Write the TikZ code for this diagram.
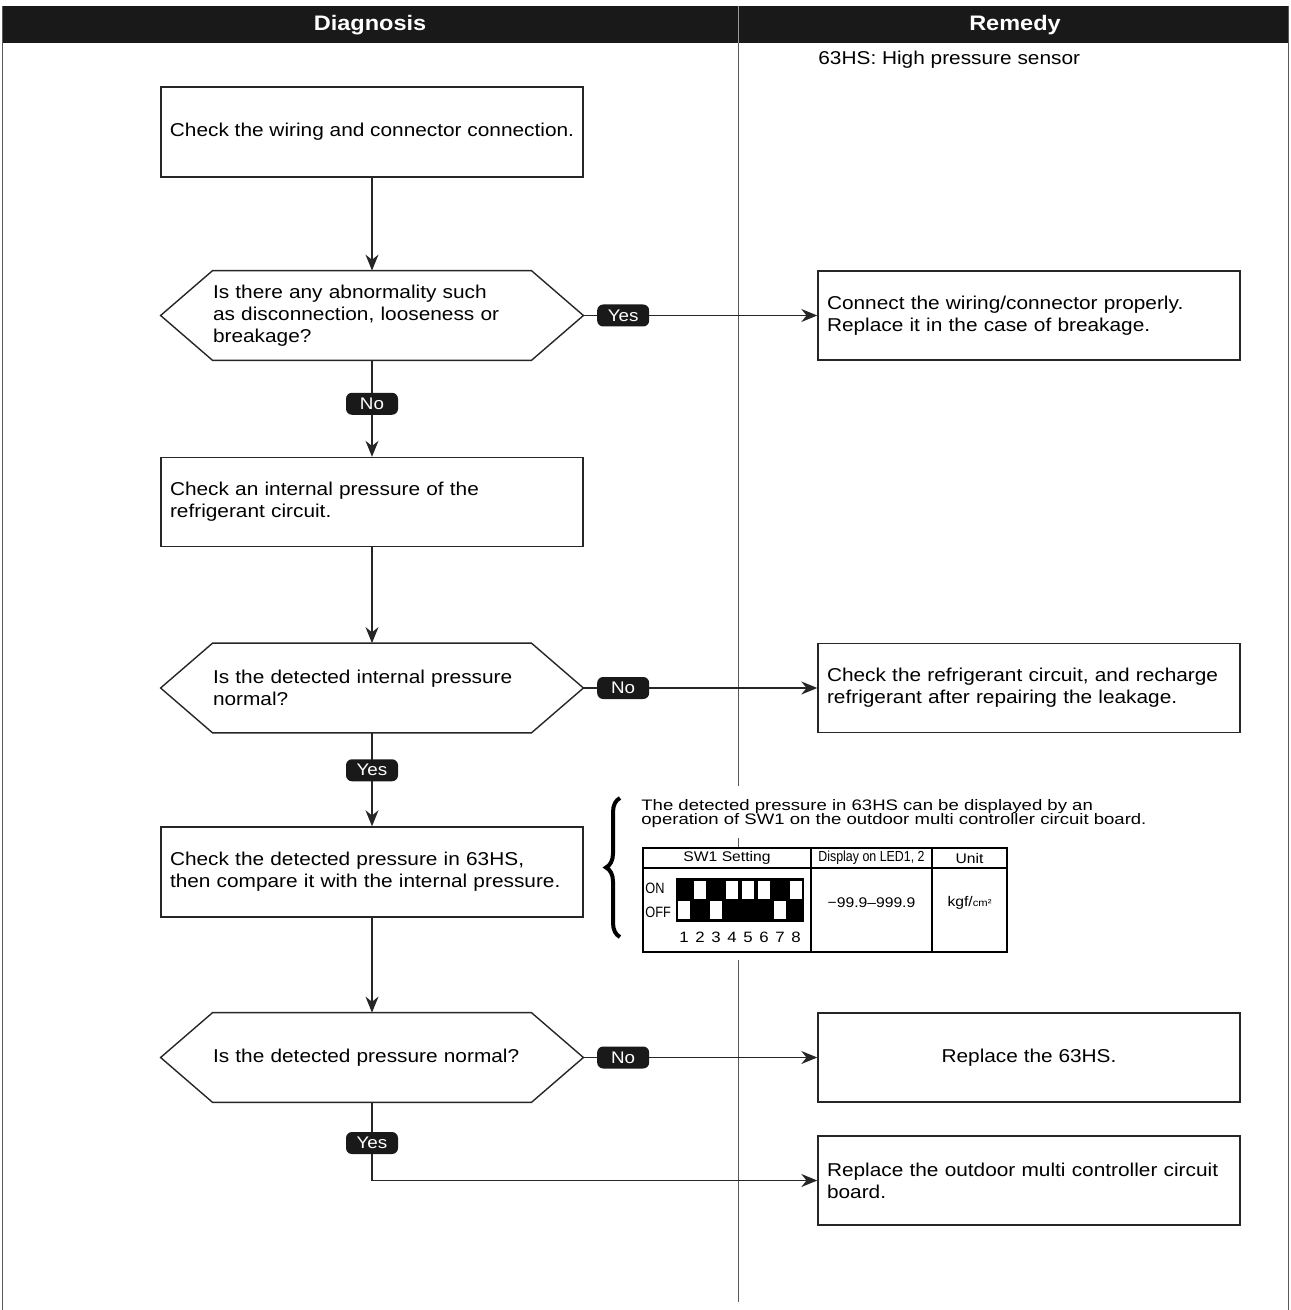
\documentclass[tikz,border=0pt]{standalone}
\usepackage{fontspec}
\setmainfont{Liberation Sans}[FakeStretch=1.12]
\newfontfamily\condfont{Liberation Sans}[FakeStretch=0.85]
\newfontfamily\widefont{Liberation Sans}[FakeStretch=1.22]
\usetikzlibrary{arrows.meta,calc,decorations.pathreplacing}
\newcommand{\flowfont}{\fontsize{9.3}{11.1}\selectfont}
\newcommand{\notefont}{\widefont\fontsize{7.6}{7}\selectfont\lineskiplimit=-10pt}
\newcommand{\tabfont}{\fontsize{7}{8}\selectfont}

\begin{document}
\begin{tikzpicture}[
    x=0.5pt, y=-0.5pt,
    box/.style={rectangle, draw=black!85, line width=0.7pt, minimum width=211pt, minimum height=44.5pt, inner sep=4.5pt, font=\flowfont},
    leftbox/.style={box, text width=202pt, align=left},
    centerbox/.style={box, align=center},
    decision/.style={rectangle, minimum width=211pt, minimum height=44.5pt, inner xsep=26pt, inner ysep=0pt, text width=159pt, align=left, font=\flowfont},
    hexline/.style={draw=black!85, line width=0.7pt},
    tag/.style={rectangle, rounded corners=3pt, fill=black!90, text=white, minimum width=26pt, minimum height=11pt, inner sep=0pt, font=\fontsize{8.4}{9}\selectfont},
    arrow/.style={-{Stealth[length=8pt, width=6.5pt]}, line width=0.6pt, black!85},
    frame/.style={black!65, line width=0.5pt},
    tabtext/.style={font=\tabfont, inner sep=0pt},
    brace/.style={decorate, decoration={brace, amplitude=7pt}, line width=2pt}
]
\useasboundingbox (0,0) rectangle (1290,1310);

% Header
\fill[black!90] (2,6) rectangle (1288,43);
\draw[white!60!black, line width=0.4pt] (738,6) -- (738,43);
\node[font=\bfseries\fontsize{10.5}{12}\selectfont, text=white] (diag) at (370,25) {Diagnosis};
\node[font=\bfseries\fontsize{10.5}{12}\selectfont, text=white] (remedy) at (1015,25) {Remedy};

% Frame and divider
\draw[frame] (2,6) -- (2,1310);
\draw[frame] (1288,6) -- (1288,1310);
\draw[frame] (738,43) -- (738,786);
\draw[frame] (738,838) -- (738,848);
\draw[frame] (738,960) -- (738,1302);

\node[anchor=west, inner sep=0pt, font=\flowfont] (legend) at (818,60) {63HS: High pressure sensor};

% Diagnosis column
\node[centerbox, minimum height=45pt] (b1) at (372,132) {Check the wiring and connector connection.};
\node[decision] (q1) at (372,315.5) {Is there any abnormality such\\as disconnection, looseness or\\breakage?};
\node[leftbox] (b2) at (372,502) {Check an internal pressure of the\\refrigerant circuit.};
\node[decision] (q2) at (372,688) {Is the detected internal pressure\\normal?};
\node[leftbox, minimum height=45pt] (b3) at (372,872) {Check the detected pressure in 63HS,\\then compare it with the internal pressure.};
\node[decision] (q3) at (372,1057.5) {Is the detected pressure normal?};

% Hexagon outlines
\draw[hexline] (q1.west) -- ([xshift=26pt]q1.north west) -- ([xshift=-26pt]q1.north east) -- (q1.east) -- ([xshift=-26pt]q1.south east) -- ([xshift=26pt]q1.south west) -- cycle;
\draw[hexline] (q2.west) -- ([xshift=26pt]q2.north west) -- ([xshift=-26pt]q2.north east) -- (q2.east) -- ([xshift=-26pt]q2.south east) -- ([xshift=26pt]q2.south west) -- cycle;
\draw[hexline] (q3.west) -- ([xshift=26pt]q3.north west) -- ([xshift=-26pt]q3.north east) -- (q3.east) -- ([xshift=-26pt]q3.south east) -- ([xshift=26pt]q3.south west) -- cycle;

% Remedy column
\node[leftbox] (r1) at (1029,315.5) {Connect the wiring/connector properly.\\Replace it in the case of breakage.};
\node[leftbox] (r2) at (1029,688) {Check the refrigerant circuit, and recharge\\refrigerant after repairing the leakage.};
\node[centerbox] (r3) at (1029,1057.5) {Replace the 63HS.};
\node[leftbox] (r4) at (1029,1180.5) {Replace the outdoor multi controller circuit\\board.};

% Flow
\draw[arrow] (b1) -- (q1);
\draw[arrow] (q1) -- node[tag, pos=0.17] {Yes} (r1);
\draw[arrow] (q1) -- node[tag, pos=0.45] {No} (b2);
\draw[arrow] (b2) -- (q2);
\draw[arrow] (q2) -- node[tag, pos=0.17] {No} (r2);
\draw[arrow] (q2) -- node[tag, pos=0.4] {Yes} (b3);
\draw[arrow] (b3) -- (q3);
\draw[arrow] (q3) -- node[tag, pos=0.17] {No} (r3);
\draw[arrow] (q3) |- node[tag, pos=0.26] {Yes} (r4);

% SW1 note
\draw[brace] (620,937) -- (620,798);
\node[anchor=west, inner sep=0pt, align=left, font=\notefont] (note) at (641,814) {The detected pressure in 63HS can be displayed by an\\operation of SW1 on the outdoor multi controller circuit board.};

% SW1 table
\draw[line width=0.6pt] (643,848) rectangle (1007,952);
\draw[line width=0.6pt] (643,868) -- (1007,868);
\draw[line width=1pt] (811,848) -- (811,952);
\draw[line width=0.6pt] (932,848) -- (932,952);
\node[tabtext] (swhead) at (727,858) {SW1 Setting};
\node[tabtext, font=\condfont\fontsize{7.3}{8}\selectfont] (ledhead) at (871.5,858) {Display on LED1, 2};
\node[tabtext] (unithead) at (969.5,858) {Unit};
\node[tabtext, anchor=west, font=\condfont\fontsize{7.5}{8}\selectfont] (on) at (645,888) {ON};
\node[tabtext, anchor=west, font=\condfont\fontsize{7.5}{8}\selectfont] (off) at (645,912) {OFF};
\node[tabtext] (range) at (871.5,903) {−99.9–999.9};
\node[tabtext] (unit) at (969.5,903) {kgf/{\fontsize{5}{6}\selectfont cm²}};

% DIP switch
\fill[black] (676,878) rectangle (804,922);
\foreach \i in {2,4,5,6,8}
    \fill[white] ({676+16*(\i-1)+2},881) rectangle ({676+16*\i-2},899);
\foreach \i in {1,3,7}
    \fill[white] ({676+16*(\i-1)+2},901) rectangle ({676+16*\i-2},919);
\foreach \i in {1,...,8}
    \node[tabtext, font=\fontsize{7.5}{8}\selectfont] (n\i) at ({676+16*\i-8},937) {\i};

\end{tikzpicture}
\end{document}
